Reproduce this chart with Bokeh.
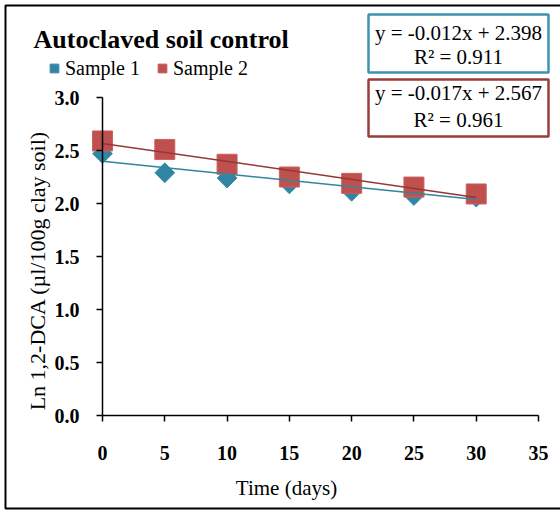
import math
from bokeh.plotting import figure
from bokeh.models import (Label, BoxAnnotation, Legend, LegendItem,
                          FixedTicker, NumeralTickFormatter, Range1d)
from bokeh.embed import file_html
from bokeh.resources import INLINE

# Measurements: ln of 1,2-DCA concentration over time
days = [0, 5, 10, 15, 20, 25, 30]
sample1 = [2.47, 2.29, 2.24, 2.185, 2.115, 2.075, 2.06]
sample2 = [2.59, 2.51, 2.37, 2.25, 2.19, 2.155, 2.09]

# Linear trendlines (slope, intercept) and fit quality
fit1 = (-0.012, 2.398)
fit2 = (-0.017, 2.567)
r2_1 = 0.911
r2_2 = 0.961

x_ticks = [0, 5, 10, 15, 20, 25, 30, 35]
y_ticks = [0.0, 0.5, 1.0, 1.5, 2.0, 2.5, 3.0]

SERIF = "Liberation Serif"
TEAL = "#3284A3"
TEAL_LINE = "#31859C"
TEAL_BOX = "#3F93B0"
RED = "#C0504D"
RED_LINE = "#953735"
RED_BOX = "#9A3D3A"

W, H = 560, 510
# Canvas pixel positions of the axis corners: x 0..35 -> 102..538, y 0..3 -> 415..97
X0, X1, Y0, Y1 = 102, 538, 415, 97
kx = (X1 - X0) / 35.0
ky = (Y0 - Y1) / 3.0

p = figure(width=W, height=H, output_backend="svg", toolbar_location=None,
           x_range=Range1d(-X0 / kx, 35 + (W - X1) / kx),
           y_range=Range1d(-(H - Y0) / ky, 3 + Y1 / ky),
           min_border=0, min_border_left=0, min_border_right=0,
           min_border_top=0, min_border_bottom=0)
p.outline_line_color = None
p.grid.visible = False
p.background_fill_color = "white"
p.border_fill_color = "white"

for ax in (p.xaxis[0], p.yaxis[0]):
    ax.fixed_location = 0
    ax.axis_line_color = "black"
    ax.axis_line_width = 1.5
    ax.major_tick_line_color = "black"
    ax.major_tick_line_width = 1.5
    ax.major_tick_out = 6
    ax.major_tick_in = 0
    ax.minor_tick_line_color = None
    ax.major_label_text_font = SERIF
    ax.major_label_text_font_style = "bold"
    ax.major_label_text_font_size = "20px"
    ax.major_label_text_color = "black"

p.xaxis.bounds = (0, 35)
p.yaxis.bounds = (0, 3)
p.xaxis.ticker = FixedTicker(ticks=x_ticks)
p.yaxis.ticker = FixedTicker(ticks=y_ticks)
p.yaxis.formatter = NumeralTickFormatter(format="0.0")
p.xaxis.major_label_standoff = 24
p.yaxis.major_label_standoff = 17

# Data markers
pts1 = p.scatter(days, sample1, marker="square", angle=math.pi / 4, size=14,
                 fill_color=TEAL, line_color="#3E90B5", line_width=1)
pts2 = p.scatter(days, sample2, marker="square", size=20,
                 fill_color=RED, line_color="#C9625F", line_width=1)

# Trendlines from the fitted equations
x_fit = [days[0], days[-1]]
p.line(x_fit, [fit1[1] + fit1[0] * x for x in x_fit], line_color=TEAL_LINE, line_width=1.5)
p.line(x_fit, [fit2[1] + fit2[0] * x for x in x_fit], line_color=RED_LINE, line_width=1.5)


# Screen positions measured from the canvas top-left corner
def sx(cx):
    return cx


def sy(cy):
    return H - cy


def screen_box(left, right, top, bottom, **kw):
    return BoxAnnotation(left=sx(left), right=sx(right), top=sy(top), bottom=sy(bottom),
                         left_units="screen", right_units="screen",
                         top_units="screen", bottom_units="screen",
                         line_alpha=1.0, **kw)


def text(cx, cy, s, size, **kw):
    return Label(x=sx(cx), y=sy(cy), x_units="screen", y_units="screen", text=s,
                 text_font=SERIF, text_font_size=size, text_baseline="middle",
                 text_color="black", **kw)


# Outer chart border
p.add_layout(screen_box(5, 566, 5, 508, fill_color=None, fill_alpha=0,
                        line_color="black", line_width=2))

# Title
p.add_layout(text(33, 39, "Autoclaved soil control", "26px", text_font_style="bold"))

# Axis titles
p.add_layout(text(37, 270, "Ln 1,2-DCA (µl/100g clay soil)", "22px",
                  angle=math.pi / 2, text_align="center"))
p.add_layout(text(286, 487, "Time (days)", "21px", text_align="center"))

# Trendline equation boxes
boxes = [
    (TEAL_BOX, 14, 72, 32, 56.5, fit1, r2_1),
    (RED_BOX, 79, 136, 92, 119, fit2, r2_2),
]
for color, top, bottom, m1, m2, fit, r2v in boxes:
    p.add_layout(screen_box(368, 548, top, bottom, fill_color="white", fill_alpha=1.0,
                            line_color=color, line_width=2.5))
    p.add_layout(text(458, m1, f"y = {fit[0]:.3f}x + {fit[1]:.3f}", "21px",
                      text_align="center"))
    p.add_layout(text(458, m2, f"R² = {r2v:.3f}", "21px", text_align="center"))

# Legend above the plot area
legend = Legend(items=[LegendItem(label="Sample 1", renderers=[pts1]),
                       LegendItem(label="Sample 2", renderers=[pts2])],
                orientation="horizontal", location=(sx(43), sy(80)),
                glyph_width=22, glyph_height=24, label_standoff=0, spacing=11,
                padding=0, margin=0, border_line_color=None,
                background_fill_alpha=0,
                label_text_font=SERIF, label_text_font_size="20px",
                label_text_color="black")
p.add_layout(legend, "center")

open("out.html", "w").write(file_html(p, INLINE))
